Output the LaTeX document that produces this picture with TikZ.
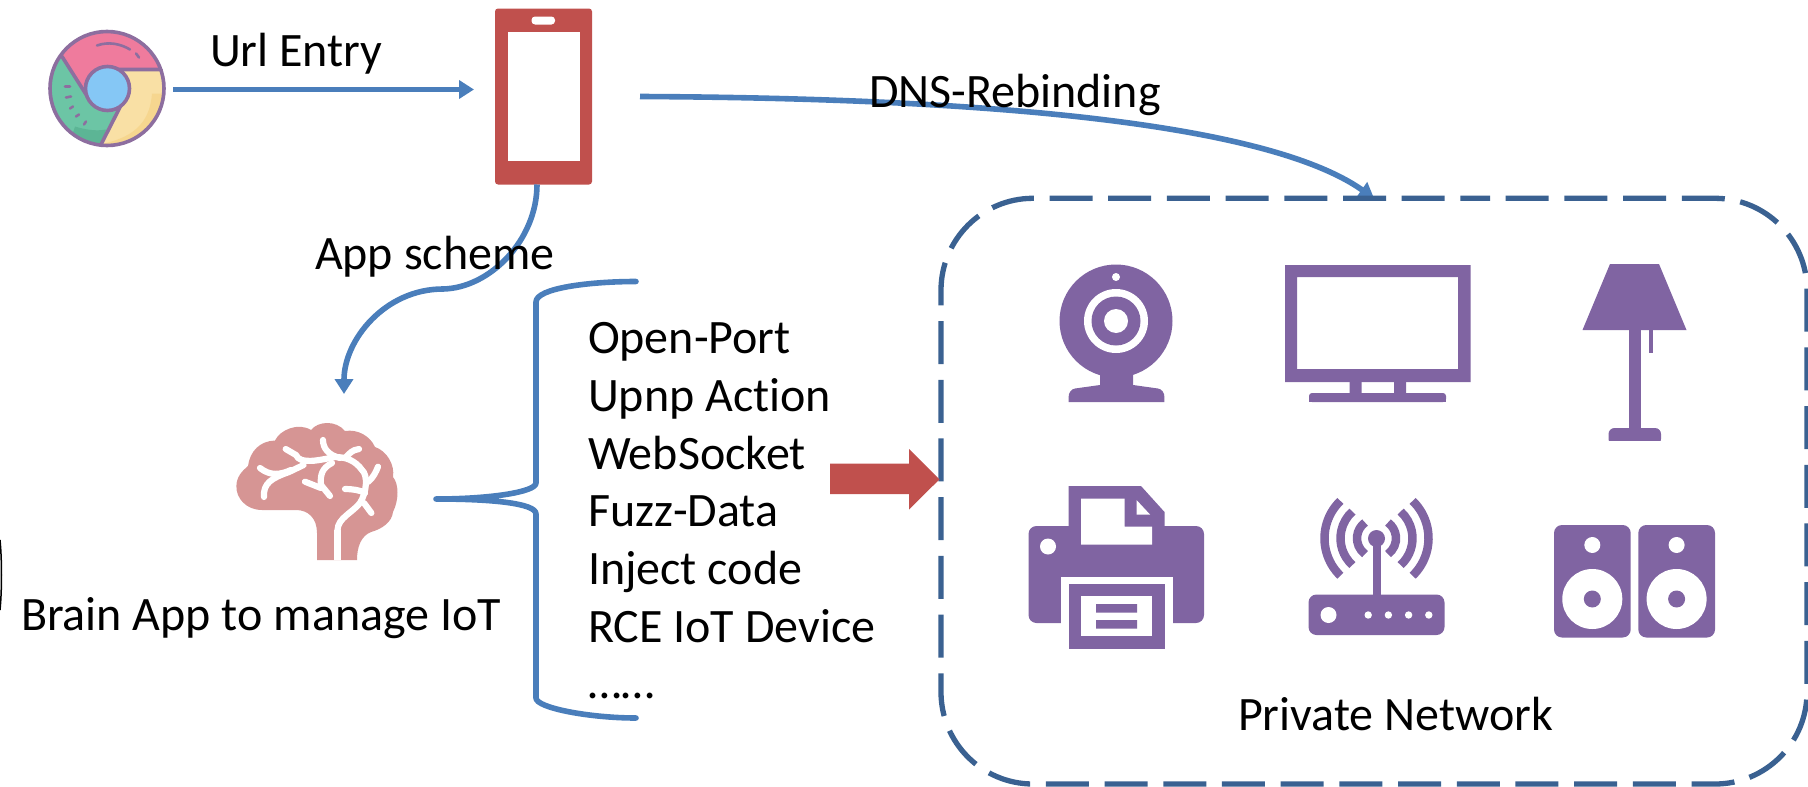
\documentclass[tikz,border=0pt]{standalone}
\usepackage{fontspec}
\setmainfont[Ligatures=NoCommon]{Carlito}
\usetikzlibrary{arrows.meta,calc}
\definecolor{flowblue}{HTML}{4A7EBB}
\definecolor{netblue}{HTML}{3A6191}
\definecolor{devpurple}{HTML}{8064A2}
\definecolor{phonered}{HTML}{C0504D}
\definecolor{brainpink}{HTML}{D69594}
\definecolor{crpink}{HTML}{EF7B9D}
\definecolor{crgreen}{HTML}{6CC5A5}
\definecolor{crgreend}{HTML}{5CB595}
\definecolor{cryellow}{HTML}{F9E0A5}
\definecolor{cryellowd}{HTML}{F6D68F}
\definecolor{crblue}{HTML}{85C7F5}
\definecolor{crline}{HTML}{8D6E9F}
\tikzset{
  x=1pt,y=-1pt,
  anchorbox/.style={inner sep=0pt,outer sep=0pt,rectangle},
  flow/.style={draw=flowblue,line width=5.6pt,-{Triangle[length=15pt,width=18pt]}},
  bracket/.style={draw=flowblue,line width=5.6pt,line cap=round,line join=round},
  label/.style={inner sep=0pt,outer sep=0pt,anchor=base west,font=\fontsize{48}{48}\selectfont,text=black},
  dev/.style={fill=devpurple,draw=none},
  hole/.style={fill=white,draw=none},
  brainline/.style={draw=white,line width=6.2pt,line cap=round,line join=round},
  crstroke/.style={draw=crline,line width=3.6pt,line cap=round},
}
\begin{document}
\begin{tikzpicture}
\useasboundingbox (0,0) rectangle (1808,787);
% ---------- anchors
\node[anchorbox,minimum width=116pt,minimum height=116pt] (browser) at (107,89.5) {};
\node[anchorbox,minimum width=97pt,minimum height=176pt] (phone) at (543.5,96.5) {};
\node[anchorbox,minimum width=161pt,minimum height=137pt] (brain) at (317,491) {};
\node[anchorbox,minimum width=866pt,minimum height=585.7pt] (network) at (1374,491.15) {};
\coordinate (brainin) at (344,394);
\coordinate (bracetip) at (436,499);
\coordinate (bracetop) at (636,281.5);
\coordinate (bracebot) at (636,718);
% ---------- chrome
\begin{scope}[shift={(0,1.5)}]
\fill[crpink] (161.5,67.2) arc[start angle=-20,end angle=-144,radius=58] -- (90,96) -- (107,87) -- (118,68) -- cycle;
\fill[crgreen] (60.1,52.9) arc[start angle=-144,end angle=-264,radius=58] -- (128,87) -- (107,87) -- (90,96) -- cycle;
\fill[cryellow] (100.9,144.7) arc[start angle=-264,end angle=-380,radius=58] -- (118,68) -- (107,87) -- (128,87) -- cycle;
\begin{scope}
\clip (107,87) circle[radius=58];
\fill[cryellowd] (104,142) .. controls (135,135) and (150,120) .. (152,92) -- (170,92) -- (170,150) -- (100,150) -- cycle;
\fill[crgreend] (75,125) .. controls (85,128) and (95,130) .. (106,128) -- (100,150) -- (70,140) -- cycle;
\end{scope}
\draw[crstroke] (118,68) -- (161,68) (62,55) -- (88,96) (128,90) -- (101,143);
\draw[crstroke,fill=crblue] (107.5,87) circle[radius=22];
\draw[crstroke] (107,87) circle[radius=57];
\draw[draw=crline,line width=2.6pt,line cap=round] (97,44) .. controls (108,40) and (120,42) .. (130,48) (136,52) -- (139,56)
  (65,85) -- (70,85) (66,96) -- (71,95) (70,107) -- (73,105) (76,115) -- (79,113) (84,123) -- (86,120);
\end{scope}
% ---------- phone
\fill[phonered,rounded corners=3pt] (495,8.5) rectangle (592,184.5);
\fill[white] (507.5,32) rectangle (579.5,161);
\fill[white,rounded corners=3.5pt] (531.5,16.5) rectangle (555,24.5);
% ---------- connectors
\draw[flow] (browser.east) [shorten <=8pt,shorten >=21pt] -- (browser.east -| phone.west);
\draw[flow] ($(phone.east)+(48,0)$) .. controls (950,98) and (1260,118) .. (network.north);
\draw[flow] ($(phone.south)+(-6.5,0)$) .. controls (537,240) and (490,288) .. (443,289)
   .. controls (385,289) and (344,340) .. (brainin);
\draw[bracket] (bracetop) .. controls (590,281.5) and (536,288) .. (536,302) -- (536,483)
   .. controls (536,492) and (490,499) .. (bracetip)
   .. controls (490,499) and (536,503) .. (536,514) -- (536,698)
   .. controls (536,708) and (590,718) .. (bracebot);
% ---------- brain
\fill[brainpink] (317,560) -- (317,533) .. controls (317,518) and (308,510) .. (296,510) -- (262,510)
 .. controls (246,510) and (236,498) .. (236.4,486) .. controls (236.5,477) and (242,471) .. (248,466)
 .. controls (250,451) and (260,441) .. (275,440.5) .. controls (280,430) and (298,422) .. (311,430)
 .. controls (318,421) and (336,420) .. (345,431) .. controls (358,429) and (370,436) .. (375,447)
 .. controls (387,451) and (395,465) .. (393,477) .. controls (399,484) and (399,500) .. (393,512)
 .. controls (392,522) and (382,529) .. (371,532) .. controls (361,536) and (357,547) .. (357,560) -- cycle;
\draw[brainline,line cap=butt] (337.5,560) -- (337.5,530);
\draw[brainline] (337.5,530) .. controls (338,518) and (352,513) .. (360,503) .. controls (367,492) and (368,475) .. (362,470)
  .. controls (355,460) and (345,457) .. (335,457) .. controls (320,460) and (300,465) .. (296,455) -- (285.7,449);
\draw[brainline] (323,440) .. controls (323,448) and (328,455) .. (340,458);
\draw[brainline] (345,458) .. controls (350,453) and (352,450) .. (359,449);
\draw[brainline] (368,482) .. controls (373,478) and (376,472) .. (378,466.7);
\draw[brainline] (364,503) -- (371.4,513);
\draw[brainline] (345,489) .. controls (352,489) and (360,490) .. (365,493);
\draw[brainline] (332,463) .. controls (322,468) and (320,475) .. (321,485) -- (330,496);
\draw[brainline] (305,481.7) -- (321,488);
\draw[brainline] (264,497) .. controls (263,483) and (272,478) .. (289,472) -- (303.6,465);
\draw[brainline] (260,468) .. controls (270,476) and (280,475) .. (291,470);
% ---------- network box
\draw[netblue,line width=5.3pt,dash pattern=on 43pt off 15.7pt,dash phase=19pt,rounded corners=92pt]
  (network.north) -- (network.north east) -- (network.south east) -- (network.south west) -- (network.north west) -- cycle;
% ---------- red arrow
\fill[phonered] (830,463.5) -- (909,463.5) -- (909,449) -- (939.5,479.3) -- (909,509.5) -- (909,494) -- (830,494) -- cycle;
% ---------- webcam
\fill[dev] (1116,321) circle[radius=56.5];
\fill[dev] (1100,370) -- (1133,370) -- (1133,385) -- (1158,388.5) .. controls (1162,389) and (1164.4,393) .. (1164.4,397) -- (1164.4,402) -- (1068.6,402) -- (1068.6,397) .. controls (1068.6,393) and (1071,389) .. (1075,388.5) -- (1100,385) -- cycle;
\fill[hole] (1116,277) circle[radius=4];
\fill[hole] (1116,321) circle[radius=32];
\fill[dev] (1116,321) circle[radius=24.5];
\fill[hole] (1116,321) circle[radius=12];
% ---------- tv
\fill[dev,even odd rule] (1285,265) rectangle (1470.5,382) (1297,277) rectangle (1458,369);
\fill[dev] (1349.5,382) rectangle (1361.5,394) (1394,382) rectangle (1406,394);
\fill[dev,rounded corners=3pt] (1309,402) -- (1309,393) -- (1446,393) -- (1446,402) -- cycle;
\fill[dev] (1309,398) rectangle (1446,402);
% ---------- lamp
\fill[dev] (1610,264) -- (1659,264) -- (1686.5,330) -- (1582.5,330) -- cycle;
\fill[dev] (1628.5,330) rectangle (1640.5,430);
\fill[dev] (1648.5,330) rectangle (1653,353);
\fill[dev,rounded corners=6pt] (1608.5,445) -- (1608.5,428) -- (1661,428) -- (1661,445) -- cycle;
\fill[white] (1600,441) rectangle (1670,450);
% ---------- printer
\fill[dev,rounded corners=8pt] (1028.5,526) rectangle (1204,623);
\fill[hole] (1060.5,577) rectangle (1172.5,630);
\fill[dev] (1068.5,584) rectangle (1164.5,648.5);
\fill[hole] (1081,596) rectangle (1152,636);
\fill[dev] (1096,604) rectangle (1137,612.5) (1096,620) rectangle (1137,628.5);
\fill[dev] (1068.5,486) -- (1141,486) -- (1164.5,512) -- (1164.5,530) -- (1068.5,530) -- cycle;
\fill[hole] (1081,498.5) -- (1124.5,498.5) -- (1124.5,526.5) -- (1152,526.5) -- (1152,544.5) -- (1081,544.5) -- cycle;
\fill[hole] (1136.5,500) -- (1136.5,514.5) -- (1150,514.5) -- cycle;
\fill[hole] (1048,546.5) circle[radius=8];
% ---------- router
\fill[dev,rounded corners=8pt] (1308.5,594.5) rectangle (1444.5,635);
\fill[dev] (1372.5,545) rectangle (1380.5,595);
\fill[dev] (1376.5,538.5) circle[radius=8.5];
\fill[hole] (1328.5,615) circle[radius=8];
\foreach \dx in {1368.2,1388.4,1408.6,1428.8} \fill[hole] (\dx,615) circle[radius=3.7];
\foreach \rr/\aa in {19.5/54,36/48,52/46}{
  \draw[devpurple,line width=8.5pt] ($(1376.5,538.3)+(180-\aa:\rr pt and -\rr pt)$) arc[start angle=180-\aa,end angle=180+\aa,radius=\rr pt,y radius=-\rr pt];
  \draw[devpurple,line width=8.5pt] ($(1376.5,538.3)+(\aa:\rr pt and -\rr pt)$) arc[start angle=\aa,end angle=-\aa,radius=\rr pt,y radius=-\rr pt];
}
% ---------- speakers
\foreach \sx in {1554,1638.3}{
  \fill[dev,rounded corners=8pt] (\sx,525) rectangle (\sx+76.7,637.5);
  \fill[hole] (\sx+38.3,545) circle[radius=8];
  \fill[hole] (\sx+38.3,599) circle[radius=30];
  \fill[dev] (\sx+38.3,599) circle[radius=8.5];
}
% ---------- left edge arc
\draw[black,line width=1.5pt] (0,540) .. controls (2,560) and (2,590) .. (0,610);
% ---------- text
\node[label] (urllabel) at (210,66) {Url Entry};
\node[label] (dnslabel) at (869,107.5) {DNS-Rebinding};
\node[label] (applabel) at (315,269) {App scheme};
\node[label] (brainlabel) at (21,630) {Brain App to manage IoT};
\node[label] (l1) at (588,353.5) {Open-Port};
\node[label] (l2) at (588,411.5) {Upnp Action};
\node[label] (l3) at (588,469) {WebSocket};
\node[label] (l4) at (588,526.5) {Fuzz-Data};
\node[label] (l5) at (588,584) {Inject code};
\node[label] (l6) at (588,642) {RCE IoT Device};
\node[label] (l7) at (588,698) {……};
\node[label] (netlabel) at (1238,730) {Private Network};
\end{tikzpicture}
\end{document}
